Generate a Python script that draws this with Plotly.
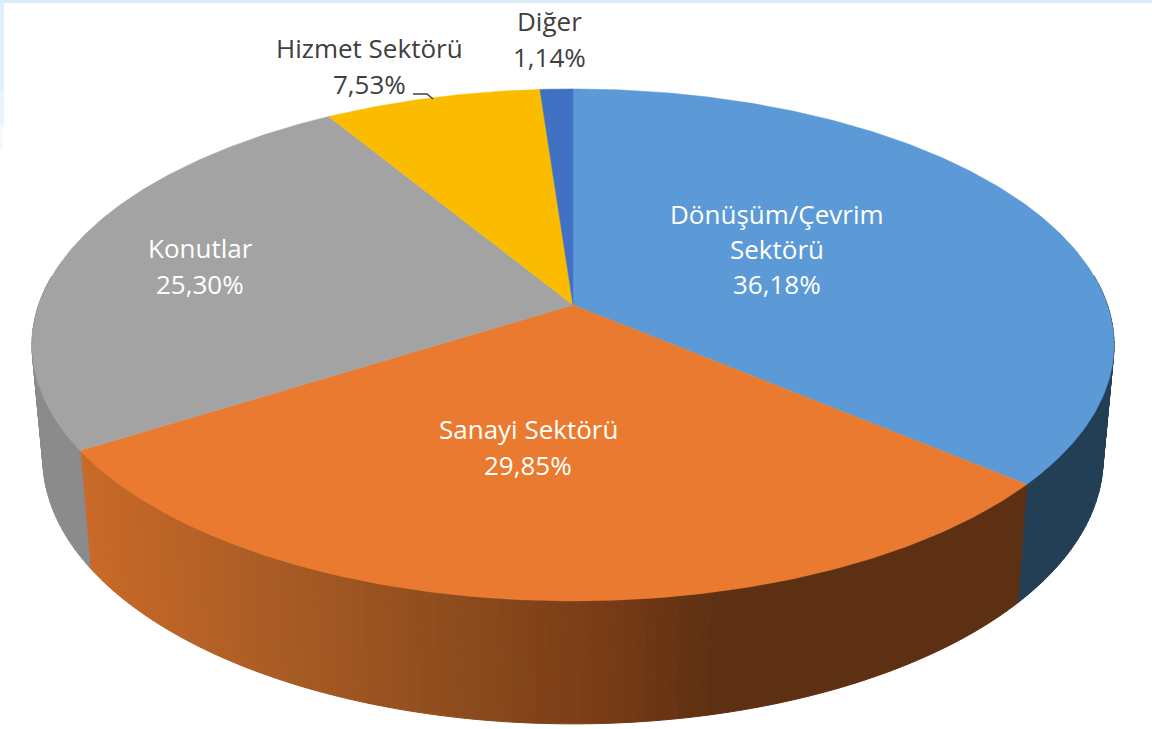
import numpy as np
import plotly.graph_objects as go

# Data
categories = ["Dönüşüm/Çevrim Sektörü", "Sanayi Sektörü", "Konutlar", "Hizmet Sektörü", "Diğer"]
shares = [36.18, 29.85, 25.30, 7.53, 1.14]
share_labels = ["36,18%", "29,85%", "25,30%", "7,53%", "1,14%"]

# Styles
top_colors = ["#5B9AD6", "#EA7A2F", "#A3A3A3", "#FBBC00", "#4171C2"]
side_flat = {0: "#233F56", 2: "#8B8B8B", 3: "#8B6A00", 4: "#2A4478"}
orange_x = [90, 280, 480, 600, 710, 1018]
orange_rgb = np.array([[201, 106, 41], [169, 92, 37], [138, 74, 28], [122, 60, 23], [95, 49, 19], [94, 48, 19]])

# Projection of the tilted disc, in canvas units
W, H = 1152, 729
TOP = dict(cx=573, cy=305, a=534.4, b=249.75)
BOT = dict(cx=573, cy=417, a=523.6, b=259.0)
PERSP = 0.156


def project(theta, g):
    u, v = np.sin(theta), np.cos(theta)
    d = 1 + PERSP * v
    return g["cx"] + g["a"] * u / d, g["cy"] - g["b"] * v / d


fractions = np.array(shares) / sum(shares)
edges = np.concatenate([[0], np.cumsum(fractions)]) * 2 * np.pi

fig = go.Figure()

# Side wall, back to front
for i in range(len(shares)):
    t0, t1 = edges[i], edges[i + 1]
    n = max(2, int((t1 - t0) / np.radians(1.0)))
    ts = np.linspace(t0, t1, n + 1)
    for a, b in zip(ts[:-1], ts[1:]):
        if np.cos((a + b) / 2) > 0.12:
            continue
        xa, ya = project(np.array([a, b]), TOP)
        xb, yb = project(np.array([b, a]), BOT)
        if i == 1:
            xm = (xa.mean() + xb.mean()) / 2
            rgb = [np.interp(xm, orange_x, orange_rgb[:, k]) for k in range(3)]
            col = "rgb(%d,%d,%d)" % tuple(rgb)
        else:
            col = side_flat[i]
        fig.add_trace(go.Scatter(
            x=np.r_[xa, xb, xa[0]], y=np.r_[ya, yb, ya[0]], mode="lines",
            fill="toself", fillcolor=col, line=dict(color=col, width=1),
            hoverinfo="skip", showlegend=False))

# Top face
for i in range(len(shares)):
    ts = np.linspace(edges[i], edges[i + 1], max(4, int(shares[i] * 6)))
    xs, ys = project(ts, TOP)
    fig.add_trace(go.Scatter(
        x=np.r_[TOP["cx"], xs, TOP["cx"]], y=np.r_[TOP["cy"], ys, TOP["cy"]],
        mode="lines", fill="toself", fillcolor=top_colors[i],
        line=dict(color=top_colors[i], width=0.5),
        name=categories[i], hoverinfo="name", showlegend=False))

# Labels: line text, x, y, colour
DARK, WHITE = "#404040", "#FFFFFF"
label_lines = [
    ("Dönüşüm/Çevrim", 777, 214, WHITE),
    ("Sektörü", 777, 249, WHITE),
    (share_labels[0], 777, 284, WHITE),
    ("Sanayi Sektörü", 528, 429, WHITE),
    (share_labels[1], 528, 465, WHITE),
    ("Konutlar", 200, 248, WHITE),
    (share_labels[2], 200, 284, WHITE),
    ("Hizmet Sektörü", 369, 48, DARK),
    (share_labels[3], 369, 84, DARK),
    ("Diğer", 549, 21, DARK),
    (share_labels[4], 549, 57, DARK),
]
annotations = [
    dict(x=x, y=y, text=t, showarrow=False, xanchor="center", yanchor="middle",
         font=dict(family="Open Sans", size=26, color=c))
    for t, x, y, c in label_lines
]

# Leader line for the service-sector slice
fig.add_trace(go.Scatter(x=[413, 427, 433], y=[94, 94, 99], mode="lines",
                         line=dict(color="#404040", width=1.5),
                         hoverinfo="skip", showlegend=False))

shapes = [
    dict(type="rect", x0=0, x1=W, y0=0, y1=3, fillcolor="#D8EDF8", line_width=0, layer="below"),
    dict(type="rect", x0=0, x1=4, y0=0, y1=90, fillcolor="#DFF0FA", line_width=0, layer="below"),
    dict(type="rect", x0=0, x1=4, y0=90, y1=125, fillcolor="#EAF5FB", line_width=0, layer="below"),
    dict(type="rect", x0=0, x1=3, y0=125, y1=150, fillcolor="#F4FAFD", line_width=0, layer="below"),
]

fig.update_layout(
    width=W, height=H, margin=dict(l=0, r=0, t=0, b=0),
    paper_bgcolor="#FFFFFF", plot_bgcolor="#FFFFFF",
    xaxis=dict(range=[0, W], visible=False, fixedrange=True),
    yaxis=dict(range=[H, 0], visible=False, fixedrange=True),
    annotations=annotations, shapes=shapes, showlegend=False,
)

fig.write_html("out.html", post_script="document.body.style.margin='0';document.body.style.overflow='hidden';",
               config=dict(displayModeBar=False))
